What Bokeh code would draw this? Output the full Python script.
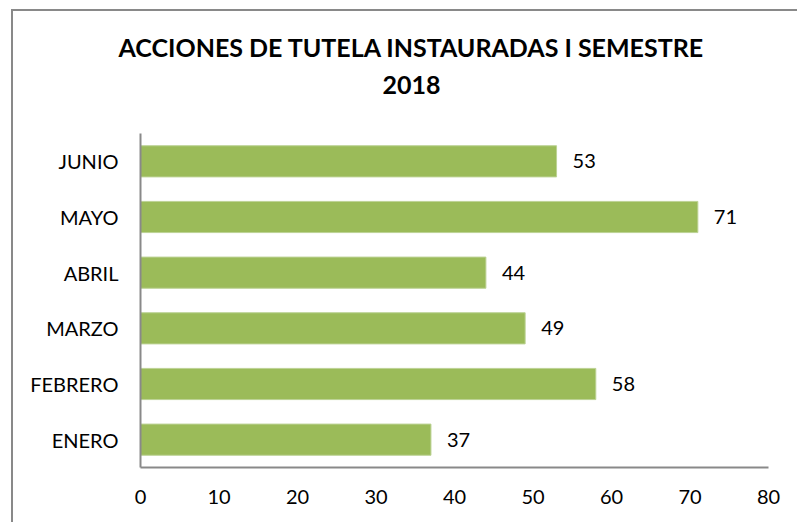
from bokeh.plotting import figure
from bokeh.models import ColumnDataSource, LabelSet, Title, Range1d, FixedTicker
from bokeh.core.properties import value
from bokeh.embed import file_html
from bokeh.resources import INLINE

months = ["ENERO", "FEBRERO", "MARZO", "ABRIL", "MAYO", "JUNIO"]
counts = [37, 58, 49, 44, 71, 53]
x_ticks = [0, 10, 20, 30, 40, 50, 60, 70, 80]
title_line1 = "ACCIONES DE TUTELA INSTAURADAS I SEMESTRE"
title_line2 = "2018"

FONT = "Lato"
GRAY = "#898989"

src = ColumnDataSource(dict(month=months, count=counts, lbl=[str(c) for c in counts]))

p = figure(y_range=months, x_range=Range1d(0, 80), width=786, height=513,
           output_backend="svg", toolbar_location=None, title=None,
           min_border_left=127, min_border_right=31, min_border_top=122, min_border_bottom=57)
p.styles = {"border-left": f"2px solid {GRAY}", "border-top": f"2px solid {GRAY}",
            "margin-left": "11px", "margin-top": "9px"}

p.hbar(y="month", right="count", height=0.56, source=src,
       fill_color="#9BBB59", line_color="#bcd294", line_width=1)

p.add_layout(LabelSet(x="count", y="month", text="lbl", source=src, x_offset=16,
                      text_align="left", text_baseline="middle",
                      text_font=value(FONT), text_font_size="20px", text_color="#000000"))

p.outline_line_color = None
p.background_fill_color = "white"
p.border_fill_color = "white"
p.grid.grid_line_color = None

for ax in (p.xaxis, p.yaxis):
    ax.axis_line_color = GRAY
    ax.axis_line_width = 2
    ax.major_tick_line_color = None
    ax.minor_tick_line_color = None
    ax.major_tick_out = 0
    ax.major_tick_in = 0
    ax.major_label_text_font = FONT
    ax.major_label_text_font_size = "20px"
    ax.major_label_text_color = "#000000"

p.xaxis.ticker = FixedTicker(ticks=x_ticks)
p.xaxis.major_label_standoff = 22
p.yaxis.major_label_standoff = 22

spacer = Title(text=" ", align="left", standoff=0,
               text_font=FONT, text_font_size="25px", text_color="#000000")
t2 = Title(text=title_line2, align="left", offset=242, standoff=15,
           text_font=FONT, text_font_style="bold", text_font_size="25px", text_color="#000000")
t1 = Title(text=title_line1, align="left", offset=-22, standoff=10,
           text_font=FONT, text_font_style="bold", text_font_size="25px", text_color="#000000")
p.add_layout(spacer, "above")
p.add_layout(t2, "above")
p.add_layout(t1, "above")

open("out.html", "w").write(file_html(p, INLINE))
